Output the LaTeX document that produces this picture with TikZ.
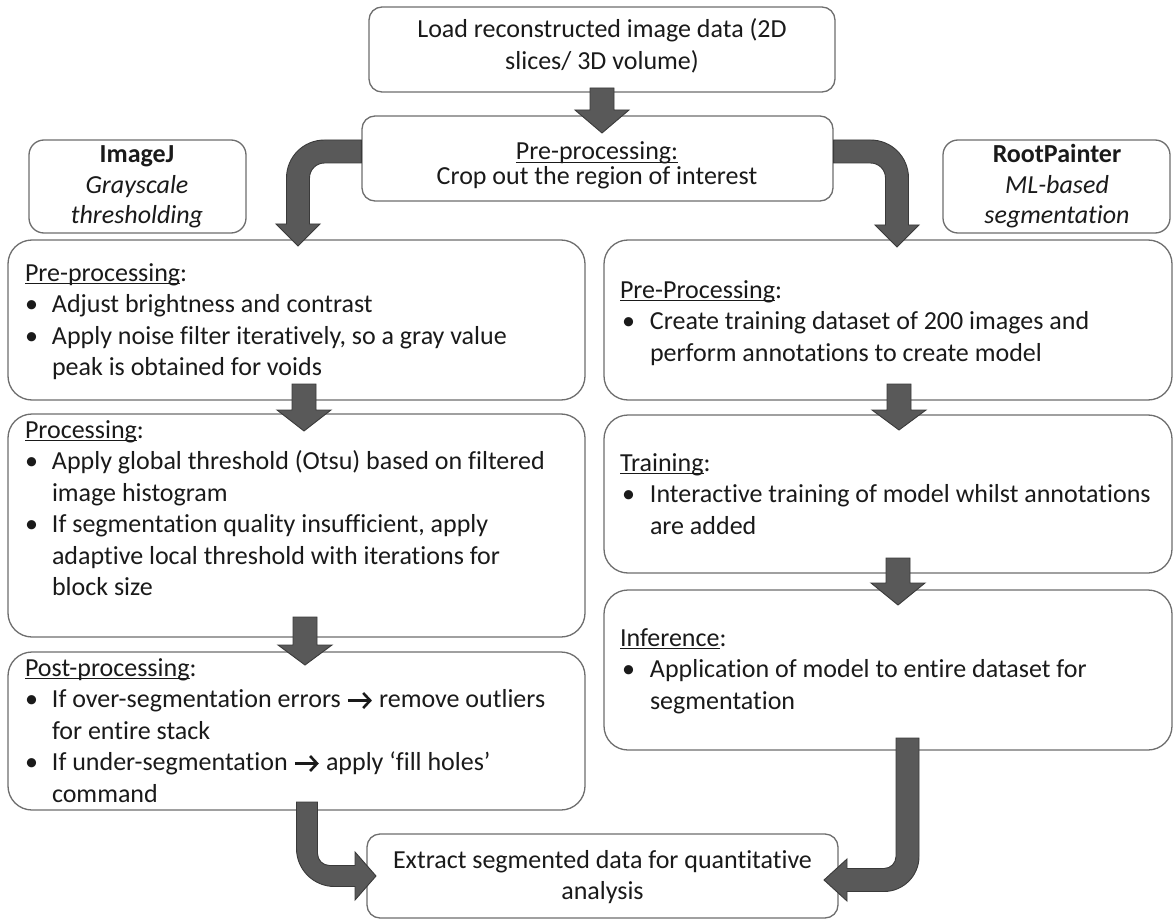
\documentclass[tikz,border=0pt]{standalone}
\usepackage{fontspec}
\setmainfont{Carlito}[Ligatures={NoCommon,NoRequired,NoContextual}, RawFeature={-liga;-clig;-calt;-dlig;-rlig}]
\usetikzlibrary{calc,arrows.meta}
\definecolor{arrfill}{HTML}{595959}
\definecolor{arredge}{HTML}{3A3A3A}
\definecolor{boxedge}{HTML}{6E6E6E}
\definecolor{txtcol}{HTML}{1A1A1A}
\newcommand\fsz{\fontsize{26}{31.5}\selectfont}
\newcommand\strt{\rule{0pt}{20pt}}
\newcommand\bl{\makebox[27pt][l]{•}}
\newcommand\ind{\hspace*{27pt}}
\newcommand\blr{\makebox[30pt][l]{\hspace{2pt}•}}
\newcommand\indr{\hspace*{30pt}}
\newcommand\ulx[1]{\setbox0=\hbox{#1}\rlap{\rule[-2.8pt]{\wd0}{1.2pt}}\box0}
\newcommand\arr{\tikz[baseline={(0pt,-7pt)}]{\draw[line width=2.6pt, draw=txtcol, -{Straight Barb[length=7pt, width=15pt]}] (0pt,0pt) -- (24pt,0pt);}}
\newcommand\blockdown[4]{\filldraw[blockarrow] ({#1-12},#2) -- ({#1+12},#2) -- ({#1+12},#3) -- ({#1+27},#3) -- (#1,#4) -- ({#1-27},#3) -- ({#1-12},#3) -- cycle;}
\tikzset{
  box/.style={draw=boxedge, line width=1.3pt, fill=white, rounded corners=#1, inner sep=0pt},
  box/.default=24pt,
  blockarrow/.style={fill=arrfill, draw=arredge, line width=0.9pt, line join=miter},
  txt/.style={inner sep=0pt, outer sep=0pt, align=left, anchor=north west, font=\fsz\color{txtcol}},
  ctxt/.style={inner sep=0pt, outer sep=0pt, align=center, anchor=north, font=\fsz\color{txtcol}}
}
\begin{document}
\begin{tikzpicture}[x=1pt, y=-1pt]
\useasboundingbox[fill=white] (0,0) rectangle (1175,920);
% boxes
\node[box=13pt, minimum width=466pt, minimum height=85pt] (top) at (602,49.5) {};
\node[box=13pt, minimum width=471pt, minimum height=85pt] (pre) at (597.5,158.5) {};
\node[box=15pt, minimum width=217pt, minimum height=93pt] (imj) at (137.5,186.5) {};
\node[box=15pt, minimum width=227pt, minimum height=93pt] (rtp) at (1056.5,186.5) {};
\node[box, minimum width=577pt, minimum height=160pt] (L1) at (296.5,320) {};
\node[box, minimum width=577pt, minimum height=223pt] (L2) at (296.5,525.5) {};
\node[box, minimum width=577pt, minimum height=158pt] (L3) at (296.5,731) {};
\node[box, minimum width=568pt, minimum height=160pt] (R1) at (888,320) {};
\node[box, minimum width=568pt, minimum height=158pt] (R2) at (888,494) {};
\node[box, minimum width=568pt, minimum height=160pt] (R3) at (888,670) {};
\node[box=13pt, minimum width=471pt, minimum height=84pt] (fin) at (602.5,876) {};
% texts
\node[ctxt] (ttop) at (602,18) {\strt Load reconstructed image data (2D\\slices/ 3D volume)};
\node[ctxt, font=\fontsize{26}{25}\selectfont\color{txtcol}] (tpre) at (597,140) {\strt\ulx{Pre-processing:}\\Crop out the region of interest};
\node[ctxt, font=\fontsize{26}{30.5}\selectfont\color{txtcol}] (timj) at (137,143) {\strt\textbf{ImageJ}\\\textit{Grayscale}\\\textit{thresholding}};
\node[ctxt, font=\fontsize{26}{30.5}\selectfont\color{txtcol}] (trtp) at (1057,143) {\strt\textbf{RootPainter}\\\textit{ML-based}\\\textit{segmentation}};
\node[txt] (tL1) at (25,261) {\strt\ulx{Pre-processing}:\\
\bl Adjust brightness and contrast\\
\bl Apply noise filter iteratively, so a gray value\\
\ind peak is obtained for voids};
\node[txt] (tL2) at (25,418) {\strt\ulx{Processing}:\\
\bl Apply global threshold (Otsu) based on filtered\\
\ind image histogram\\
\bl If segmentation quality insufficient, apply\\
\ind adaptive local threshold with iterations for\\
\ind block size};
\node[txt] (tL3) at (25,656) {\strt\ulx{Post-processing}:\\
\bl If over-segmentation errors \arr{} remove outliers\\
\ind for entire stack\\
\bl If under-segmentation \arr{} apply ‘fill holes’\\
\ind command};
\node[txt] (tR1) at (620,278) {\strt\ulx{Pre-Processing}:\\
\blr Create training dataset of 200 images and\\
\indr perform annotations to create model};
\node[txt] (tR2) at (620,451) {\strt\ulx{Training}:\\
\blr Interactive training of model whilst annotations\\
\indr are added};
\node[txt] (tR3) at (620,626) {\strt\ulx{Inference}:\\
\blr Application of model to entire dataset for\\
\indr segmentation};
\node[ctxt] (tfin) at (602.5,848) {\strt Extract segmented data for quantitative\\analysis};
% straight block arrows
\blockdown{602}{88}{110}{133}
\blockdown{304}{384}{410}{431}
\blockdown{305}{617}{645}{665}
\blockdown{899}{384}{410}{430}
\blockdown{898}{558}{583}{605}
% curved block arrows
\filldraw[blockarrow] (pre.west |- 0,140) -- (324.5,140) .. controls (303.4,140) and (286.5,156.9) .. (286.5,178) -- (286.5,224) -- (276,224) -- (298,246) -- (320,224) -- (309.5,224) -- (309.5,178) .. controls (309.5,169.7) and (316.2,163) .. (324.5,163) -- (pre.west |- 0,163) -- cycle;
\filldraw[blockarrow] (pre.east |- 0,140) -- (870.5,140) .. controls (891.6,140) and (908.5,156.9) .. (908.5,178) -- (908.5,225) -- (919,225) -- (897,247) -- (875,225) -- (885.5,225) -- (885.5,178) .. controls (885.5,169.7) and (878.8,163) .. (870.5,163) -- (pre.east |- 0,163) -- cycle;
\filldraw[blockarrow] (296.5,802) -- (296.5,848.5) .. controls (296.5,869.5) and (313.4,886.5) .. (334.5,886.5) -- (355,886.5) -- (355,900) -- (376,876) -- (355,852) -- (355,865.5) -- (329.5,865.5) .. controls (322.9,865.5) and (317.5,860.1) .. (317.5,853.5) -- (317.5,802) -- cycle;
\filldraw[blockarrow] (919,738) -- (919,856.5) .. controls (919,875.8) and (903.3,891.5) .. (884,891.5) -- (847,891.5) -- (847,901) -- (824,880) -- (847,859) -- (847,868.5) -- (884,868.5) .. controls (890.6,868.5) and (896,863.1) .. (896,856.5) -- (896,738) -- cycle;
\end{tikzpicture}
\end{document}
